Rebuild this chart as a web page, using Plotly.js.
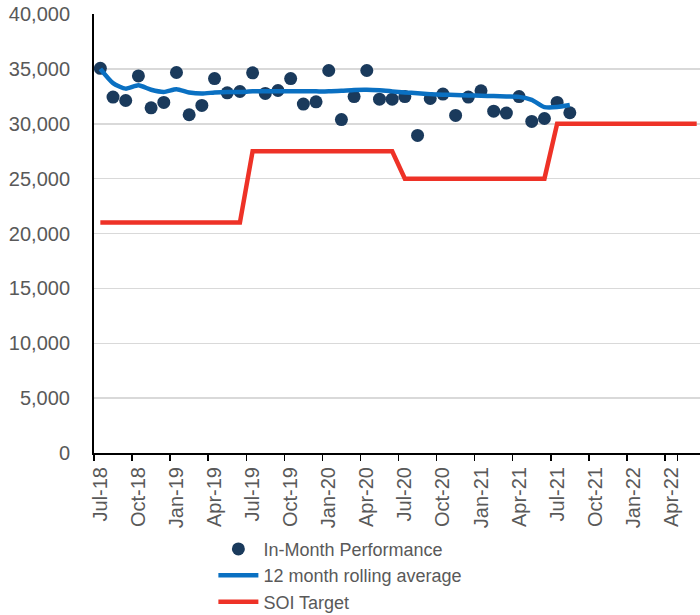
<!DOCTYPE html>
<html>
<head>
<meta charset="utf-8">
<script src="https://cdn.plot.ly/plotly-3.0.1.min.js"></script>
<style>html,body{margin:0;padding:0;background:#fff;}#chart{width:700px;height:615px;}</style>
</head>
<body>
<div id="chart"></div>
<script>
const months = ["Jul-18","Aug-18","Sep-18","Oct-18","Nov-18","Dec-18","Jan-19","Feb-19","Mar-19","Apr-19","May-19","Jun-19",
"Jul-19","Aug-19","Sep-19","Oct-19","Nov-19","Dec-19","Jan-20","Feb-20","Mar-20","Apr-20","May-20","Jun-20",
"Jul-20","Aug-20","Sep-20","Oct-20","Nov-20","Dec-20","Jan-21","Feb-21","Mar-21","Apr-21","May-21","Jun-21",
"Jul-21","Aug-21","Sep-21","Oct-21","Nov-21","Dec-21","Jan-22","Feb-22","Mar-22","Apr-22","May-22","Jun-22"];

const tickLabels = ["Jul-18","Oct-18","Jan-19","Apr-19","Jul-19","Oct-19","Jan-20","Apr-20","Jul-20","Oct-20","Jan-21","Apr-21","Jul-21","Oct-21","Jan-22","Apr-22"];

const inMonth = [35050,32430,32120,34360,31450,31940,34670,30820,31670,34120,32820,32940,
34640,32760,33030,34120,31790,32000,34850,30380,32480,34850,32240,32240,
32480,28940,32300,32700,30760,32430,33000,31150,30970,32480,30210,30480,
31940,31000];

const rolling = [35000,33700,33200,33500,33100,32900,33150,32850,32750,32850,32900,32900,
32950,32950,32950,32950,32950,32950,32950,33000,33080,33100,33050,32950,
32850,32780,32700,32650,32620,32580,32550,32520,32480,32450,32180,31520,
31520,31700];

const soiTarget = [21000,21000,21000,21000,21000,21000,21000,21000,21000,21000,21000,21000,
27500,27500,27500,27500,27500,27500,27500,27500,27500,27500,27500,27500,
25000,25000,25000,25000,25000,25000,25000,25000,25000,25000,25000,25000,
30000,30000,30000,30000,30000,30000,30000,30000,30000,30000,30000,30000];

const yTicks = [0,5000,10000,15000,20000,25000,30000,35000,40000];

const font = {family: "Liberation Sans, Arial, sans-serif", size: 20, color: "#595959"};
const legendFont = {family: "Liberation Sans, Arial, sans-serif", size: 18, color: "#595959"};

const traces = [
  {x: months.slice(0, inMonth.length), y: inMonth, name: "In-Month Performance", type: "scatter", mode: "markers",
   marker: {color: "#1a3a5c", size: 13}},
  {x: months.slice(0, rolling.length), y: rolling, name: "12 month rolling average", type: "scatter", mode: "lines",
   line: {color: "#0a70c2", width: 4.5, shape: "spline", smoothing: 0.6}},
  {x: months, y: soiTarget, name: "SOI Target", type: "scatter", mode: "lines",
   line: {color: "#ee3227", width: 4.5}}
];

const layout = {
  width: 700, height: 615,
  margin: {l: 94, r: 0, t: 14, b: 162, autoexpand: false},
  paper_bgcolor: "#fff", plot_bgcolor: "#fff",
  font: font,
  showlegend: true,
  legend: {orientation: "v", x: 0.197, xanchor: "left", y: -0.177, yanchor: "top",
           font: legendFont, tracegroupgap: 0, itemwidth: 40, bgcolor: "rgba(0,0,0,0)", borderwidth: 0},
  xaxis: {type: "category", categoryorder: "array", categoryarray: months, automargin: false,
          range: [-0.5, 47.26], tickmode: "array", tickvals: tickLabels, ticktext: tickLabels,
          tickson: "boundaries", ticks: "outside", ticklen: 6, tickcolor: "#000", tickwidth: 1.5,
          tickangle: -90, tickfont: font, ticklabelstandoff: 4, showline: true, linecolor: "#000", linewidth: 2,
          showgrid: false, zeroline: false, fixedrange: true},
  yaxis: {range: [0, 40000], tickmode: "array", tickvals: yTicks, automargin: false,
          ticktext: yTicks.map(v => v.toLocaleString("en-US")),
          tickfont: font, showline: true, linecolor: "#000", linewidth: 2,
          showgrid: true, gridcolor: "#d9d9d9", gridwidth: 1.5, zeroline: false,
          ticks: "", ticklabelstandoff: 18, fixedrange: true}
};

Plotly.newPlot("chart", traces, layout, {displayModeBar: false, staticPlot: true});
</script>
</body>
</html>
